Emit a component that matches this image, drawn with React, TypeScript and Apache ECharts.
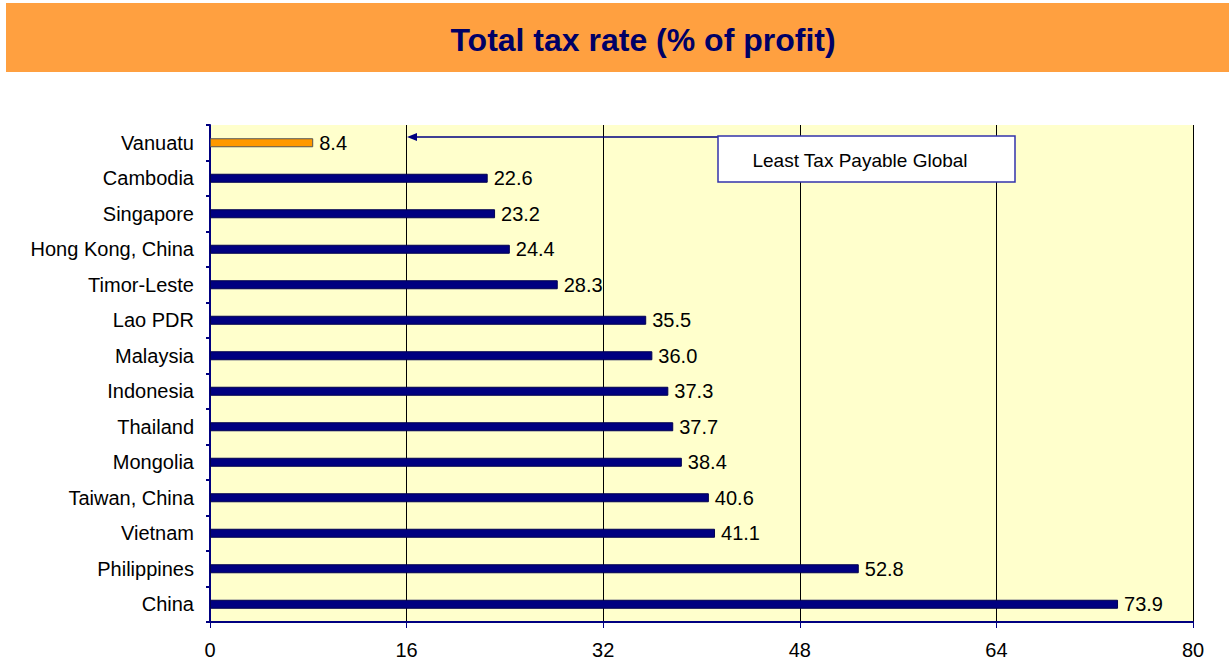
import React, { useEffect, useRef } from "react";
import * as echarts from "echarts";

const categories = [
  "Vanuatu",
  "Cambodia",
  "Singapore",
  "Hong Kong, China",
  "Timor-Leste",
  "Lao PDR",
  "Malaysia",
  "Indonesia",
  "Thailand",
  "Mongolia",
  "Taiwan, China",
  "Vietnam",
  "Philippines",
  "China",
];
const values = [8.4, 22.6, 23.2, 24.4, 28.3, 35.5, 36.0, 37.3, 37.7, 38.4, 40.6, 41.1, 52.8, 73.9];
const highlighted = ["Vanuatu"];
const xTicks = [0, 16, 32, 48, 64, 80];
const titleText = "Total tax rate (% of profit)";
const annotationText = "Least Tax Payable Global";

const FONT = "'Liberation Sans', Arial, Helvetica, sans-serif";

export default function App() {
  const ref = useRef<HTMLDivElement>(null);
  useEffect(() => {
    if (!ref.current) return;
    const chart = echarts.init(ref.current, null, { renderer: "svg" });
    chart.setOption({
      animation: false,
      backgroundColor: "#ffffff",
      grid: {
        left: 210,
        right: 36,
        top: 125,
        bottom: 42,
        show: true,
        backgroundColor: "#FFFFCC",
        borderWidth: 0,
      },
      xAxis: {
        type: "value",
        min: xTicks[0],
        max: xTicks[xTicks.length - 1],
        interval: 16,
        axisLine: { show: true, lineStyle: { color: "#000080", width: 2 } },
        axisTick: { show: true, length: 6, lineStyle: { color: "#000080", width: 1 } },
        axisLabel: { color: "#000", fontSize: 20, fontFamily: FONT, margin: 18 },
        splitLine: { show: true, lineStyle: { color: "#000", width: 1 } },
      },
      yAxis: {
        type: "category",
        data: categories,
        inverse: true,
        axisLine: { show: true, lineStyle: { color: "#000080", width: 2 } },
        axisTick: { show: true, length: 4, lineStyle: { color: "#000080", width: 2 } },
        axisLabel: { color: "#000", fontSize: 20, fontFamily: FONT, margin: 16 },
        splitLine: { show: false },
      },
      series: [
        {
          type: "bar",
          barWidth: 9,
          data: values.map((v, i) => ({
            value: v,
            itemStyle: {
              color: highlighted.includes(categories[i]) ? "#FF9900" : "#000080",
              borderColor: highlighted.includes(categories[i]) ? "#555" : "#000050",
              borderWidth: 1,
            },
          })),
          label: {
            show: true,
            position: "right",
            distance: 6,
            color: "#000",
            fontSize: 20,
            fontFamily: FONT,
            formatter: (p: any) => Number(p.value).toFixed(1),
          },
        },
      ],
      graphic: [
        {
          type: "rect",
          left: 6,
          top: 3,
          shape: { width: 1223, height: 69 },
          style: { fill: "#FFA040" },
          z: 0,
        },
        {
          type: "text",
          x: 643,
          y: 40,
          style: {
            text: titleText,
            fill: "#000066",
            font: `bold 32px ${FONT}`,
            align: "center",
            verticalAlign: "middle",
          },
          z: 1,
        },
        {
          type: "line",
          shape: { x1: 718, y1: 137, x2: 410, y2: 137 },
          style: { stroke: "#000080", lineWidth: 1.5 },
          z: 10,
        },
        {
          type: "polygon",
          shape: { points: [[407, 137], [417, 133], [417, 141]] },
          style: { fill: "#000080" },
          z: 10,
        },
        {
          type: "rect",
          shape: { x: 718, y: 136, width: 297, height: 46 },
          style: { fill: "#ffffff", stroke: "#3333AA", lineWidth: 1.5 },
          z: 10,
        },
        {
          type: "text",
          x: 860,
          y: 160,
          style: {
            text: annotationText,
            fill: "#000",
            font: `19px ${FONT}`,
            align: "center",
            verticalAlign: "middle",
          },
          z: 11,
        },
      ],
    });
    return () => chart.dispose();
  }, []);
  return <div ref={ref} style={{ width: 1229, height: 664, position: "absolute", left: 0, top: 0 }} />;
}
